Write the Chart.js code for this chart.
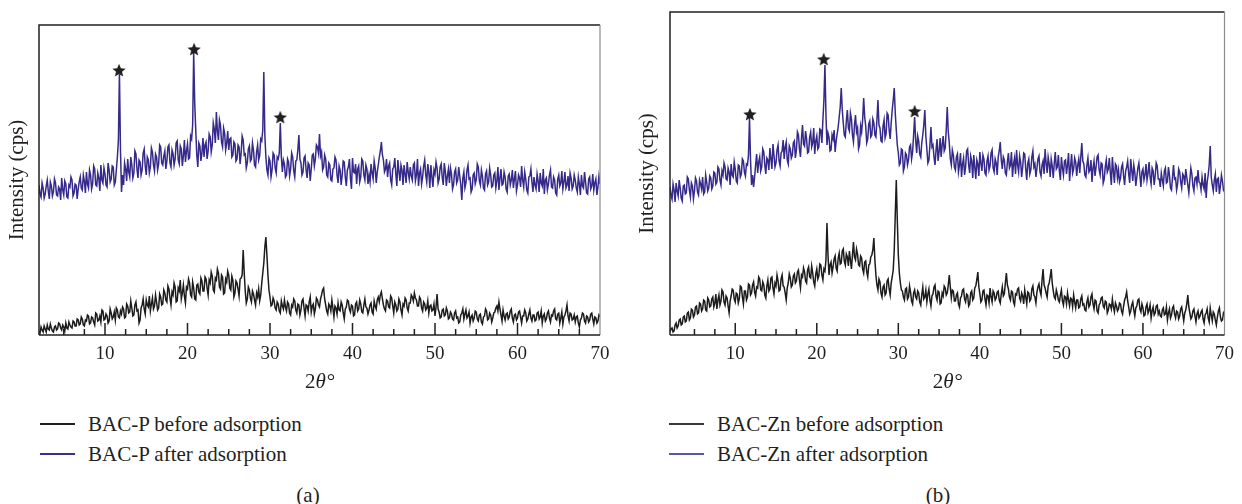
<!DOCTYPE html>
<html>
<head>
<meta charset="utf-8">
<script src="https://cdn.jsdelivr.net/npm/chart.js@4.4.1/dist/chart.umd.min.js"></script>
<style>
  body { margin: 0; background: #fff; width: 1242px; height: 504px; position: relative; overflow: hidden;
         font-family: "Liberation Serif", "Times New Roman", serif; color: #231f20; }
  .wrap { position: absolute; top: 0; }
  .legend { position: absolute; font-size: 21px; line-height: 24px; }
  .legend div { display: flex; align-items: center; height: 30px; }
  .legend span { display: inline-block; width: 35px; height: 1.5px; margin-right: 13px; }
  .caption { position: absolute; width: 60px; text-align: center; font-size: 21px; line-height: 24px; top: 483px; }
</style>
</head>
<body>
<div class="wrap" style="left:0"><canvas id="chartA" width="621" height="400"></canvas></div>
<div class="wrap" style="left:630px"><canvas id="chartB" width="612" height="400"></canvas></div>

<div class="legend" style="left:40px;top:409px">
  <div><span style="background:#231f20"></span>BAC-P before adsorption</div>
  <div><span style="background:#3a2f8c"></span>BAC-P after adsorption</div>
</div>
<div class="legend" style="left:669px;top:409px">
  <div><span style="background:#3a3a3a"></span>BAC-Zn before adsorption</div>
  <div><span style="background:#5b55a8"></span>BAC-Zn after adsorption</div>
</div>
<div class="caption" style="left:278px">(a)</div>
<div class="caption" style="left:908px">(b)</div>

<script>
// 2θ (degrees), shared by all four patterns
const angles = [
  2, 2.125, 2.25, 2.375, 2.5, 2.625, 2.75, 2.875, 3, 3.125, 3.25, 3.375, 3.5, 3.625, 3.75, 3.875, 4, 4.125, 4.25, 4.375,
  4.5, 4.625, 4.75, 4.875, 5, 5.125, 5.25, 5.375, 5.5, 5.625, 5.75, 5.875, 6, 6.125, 6.25, 6.375, 6.5, 6.625, 6.75, 6.875,
  7, 7.125, 7.25, 7.375, 7.5, 7.625, 7.75, 7.875, 8, 8.125, 8.25, 8.375, 8.5, 8.625, 8.75, 8.875, 9, 9.125, 9.25, 9.375,
  9.5, 9.625, 9.75, 9.875, 10, 10.125, 10.25, 10.375, 10.5, 10.625, 10.75, 10.875, 11, 11.125, 11.25, 11.375, 11.5, 11.625, 11.75, 11.875,
  12, 12.125, 12.25, 12.375, 12.5, 12.625, 12.75, 12.875, 13, 13.125, 13.25, 13.375, 13.5, 13.625, 13.75, 13.875, 14, 14.125, 14.25, 14.375,
  14.5, 14.625, 14.75, 14.875, 15, 15.125, 15.25, 15.375, 15.5, 15.625, 15.75, 15.875, 16, 16.125, 16.25, 16.375, 16.5, 16.625, 16.75, 16.875,
  17, 17.125, 17.25, 17.375, 17.5, 17.625, 17.75, 17.875, 18, 18.125, 18.25, 18.375, 18.5, 18.625, 18.75, 18.875, 19, 19.125, 19.25, 19.375,
  19.5, 19.625, 19.75, 19.875, 20, 20.125, 20.25, 20.375, 20.5, 20.625, 20.75, 20.875, 21, 21.125, 21.25, 21.375, 21.5, 21.625, 21.75, 21.875,
  22, 22.125, 22.25, 22.375, 22.5, 22.625, 22.75, 22.875, 23, 23.125, 23.25, 23.375, 23.5, 23.625, 23.75, 23.875, 24, 24.125, 24.25, 24.375,
  24.5, 24.625, 24.75, 24.875, 25, 25.125, 25.25, 25.375, 25.5, 25.625, 25.75, 25.875, 26, 26.125, 26.25, 26.375, 26.5, 26.625, 26.75, 26.875,
  27, 27.125, 27.25, 27.375, 27.5, 27.625, 27.75, 27.875, 28, 28.125, 28.25, 28.375, 28.5, 28.625, 28.75, 28.875, 29, 29.125, 29.25, 29.375,
  29.5, 29.625, 29.75, 29.875, 30, 30.125, 30.25, 30.375, 30.5, 30.625, 30.75, 30.875, 31, 31.125, 31.25, 31.375, 31.5, 31.625, 31.75, 31.875,
  32, 32.125, 32.25, 32.375, 32.5, 32.625, 32.75, 32.875, 33, 33.125, 33.25, 33.375, 33.5, 33.625, 33.75, 33.875, 34, 34.125, 34.25, 34.375,
  34.5, 34.625, 34.75, 34.875, 35, 35.125, 35.25, 35.375, 35.5, 35.625, 35.75, 35.875, 36, 36.125, 36.25, 36.375, 36.5, 36.625, 36.75, 36.875,
  37, 37.125, 37.25, 37.375, 37.5, 37.625, 37.75, 37.875, 38, 38.125, 38.25, 38.375, 38.5, 38.625, 38.75, 38.875, 39, 39.125, 39.25, 39.375,
  39.5, 39.625, 39.75, 39.875, 40, 40.125, 40.25, 40.375, 40.5, 40.625, 40.75, 40.875, 41, 41.125, 41.25, 41.375, 41.5, 41.625, 41.75, 41.875,
  42, 42.125, 42.25, 42.375, 42.5, 42.625, 42.75, 42.875, 43, 43.125, 43.25, 43.375, 43.5, 43.625, 43.75, 43.875, 44, 44.125, 44.25, 44.375,
  44.5, 44.625, 44.75, 44.875, 45, 45.125, 45.25, 45.375, 45.5, 45.625, 45.75, 45.875, 46, 46.125, 46.25, 46.375, 46.5, 46.625, 46.75, 46.875,
  47, 47.125, 47.25, 47.375, 47.5, 47.625, 47.75, 47.875, 48, 48.125, 48.25, 48.375, 48.5, 48.625, 48.75, 48.875, 49, 49.125, 49.25, 49.375,
  49.5, 49.625, 49.75, 49.875, 50, 50.125, 50.25, 50.375, 50.5, 50.625, 50.75, 50.875, 51, 51.125, 51.25, 51.375, 51.5, 51.625, 51.75, 51.875,
  52, 52.125, 52.25, 52.375, 52.5, 52.625, 52.75, 52.875, 53, 53.125, 53.25, 53.375, 53.5, 53.625, 53.75, 53.875, 54, 54.125, 54.25, 54.375,
  54.5, 54.625, 54.75, 54.875, 55, 55.125, 55.25, 55.375, 55.5, 55.625, 55.75, 55.875, 56, 56.125, 56.25, 56.375, 56.5, 56.625, 56.75, 56.875,
  57, 57.125, 57.25, 57.375, 57.5, 57.625, 57.75, 57.875, 58, 58.125, 58.25, 58.375, 58.5, 58.625, 58.75, 58.875, 59, 59.125, 59.25, 59.375,
  59.5, 59.625, 59.75, 59.875, 60, 60.125, 60.25, 60.375, 60.5, 60.625, 60.75, 60.875, 61, 61.125, 61.25, 61.375, 61.5, 61.625, 61.75, 61.875,
  62, 62.125, 62.25, 62.375, 62.5, 62.625, 62.75, 62.875, 63, 63.125, 63.25, 63.375, 63.5, 63.625, 63.75, 63.875, 64, 64.125, 64.25, 64.375,
  64.5, 64.625, 64.75, 64.875, 65, 65.125, 65.25, 65.375, 65.5, 65.625, 65.75, 65.875, 66, 66.125, 66.25, 66.375, 66.5, 66.625, 66.75, 66.875,
  67, 67.125, 67.25, 67.375, 67.5, 67.625, 67.75, 67.875, 68, 68.125, 68.25, 68.375, 68.5, 68.625, 68.75, 68.875, 69, 69.125, 69.25, 69.375,
  69.5, 69.625, 69.75, 69.875, 70
];

// intensity (arbitrary cps, offset patterns), one row per 2.5°
const bacPBefore = [
  4, 2, 8, 5, 3, 9, 6, 3, 10, 6, 5, 11, 7, 4, 3, 8, 9, 5, 6, 12,
  11, 7, 5, 10, 8, 4, 12, 7, 6, 13, 10, 8, 7, 14, 13, 9, 9, 16, 15, 10,
  11, 18, 16, 10, 9, 15, 14, 20, 19, 11, 12, 18, 17, 13, 10, 22, 21, 14, 15, 19,
  13, 25, 24, 15, 16, 21, 19, 12, 14, 26, 22, 16, 18, 23, 15, 27, 25, 18, 17, 24,
  21, 28, 26, 17, 18, 31, 29, 22, 23, 34, 27, 19, 20, 30, 33, 24, 25, 12, 15, 27,
  30, 36, 26, 21, 35, 30, 28, 39, 24, 31, 37, 26, 29, 40, 33, 25, 27, 41, 38, 30,
  31, 45, 42, 35, 33, 49, 46, 37, 30, 43, 40, 52, 48, 33, 34, 47, 44, 55, 36, 42,
  50, 39, 32, 48, 46, 56, 52, 40, 38, 53, 47, 36, 35, 50, 51, 43, 41, 57, 54, 44,
  44, 58, 56, 47, 40, 55, 52, 63, 59, 45, 43, 57, 55, 66, 62, 48, 46, 60, 58, 41,
  42, 56, 53, 64, 60, 47, 45, 59, 55, 38, 42, 54, 52, 46, 39, 56, 57, 60, 85, 62,
  44, 32, 36, 48, 45, 37, 33, 44, 41, 35, 30, 42, 38, 46, 34, 40, 52, 62, 72, 88,
  98, 80, 60, 45, 38, 29, 30, 37, 34, 27, 25, 33, 31, 24, 22, 34, 29, 26, 35, 28,
  24, 33, 31, 22, 20, 30, 28, 36, 34, 25, 22, 31, 30, 20, 25, 34, 36, 27, 19, 30,
  29, 24, 33, 38, 23, 29, 31, 21, 26, 37, 35, 30, 28, 36, 40, 45, 47, 36, 30, 24,
  21, 31, 29, 24, 35, 27, 18, 29, 27, 21, 32, 25, 24, 33, 30, 22, 16, 26, 28, 35,
  34, 26, 23, 30, 29, 19, 20, 31, 33, 24, 26, 35, 31, 23, 22, 30, 36, 28, 27, 21,
  25, 30, 32, 23, 21, 34, 29, 26, 35, 38, 33, 40, 43, 36, 30, 26, 24, 35, 34, 28,
  27, 39, 37, 29, 22, 33, 30, 24, 26, 36, 33, 25, 20, 31, 29, 37, 35, 27, 24, 32,
  32, 40, 38, 34, 42, 37, 35, 29, 29, 38, 36, 27, 24, 33, 31, 25, 27, 34, 22, 29,
  30, 24, 25, 31, 19, 28, 41, 26, 23, 17, 18, 25, 26, 19, 20, 27, 24, 16, 17, 23,
  21, 16, 15, 22, 24, 17, 18, 12, 13, 20, 22, 26, 16, 21, 25, 17, 19, 23, 12, 18,
  20, 14, 17, 24, 23, 16, 14, 20, 21, 13, 11, 18, 19, 26, 24, 15, 16, 22, 20, 13,
  17, 22, 23, 27, 29, 24, 33, 26, 20, 14, 25, 19, 15, 21, 22, 16, 18, 24, 26, 17,
  13, 20, 21, 15, 17, 23, 24, 18, 12, 19, 19, 25, 22, 14, 16, 21, 25, 17, 14, 20,
  20, 14, 15, 22, 23, 16, 18, 24, 12, 19, 21, 14, 16, 22, 24, 17, 13, 20, 19, 24,
  26, 16, 15, 21, 22, 12, 17, 23, 11, 18, 20, 24, 30, 19, 14, 22, 21, 15, 16, 20,
  13, 18, 19, 12, 8, 15, 17, 22, 21, 14, 12, 19, 18, 13, 15, 21, 22, 16, 11, 18,
  17, 12, 14, 20, 18
];
const bacPAfter = [
  150, 141, 138, 152, 147, 137, 141, 149, 155, 144, 136, 153, 149, 139, 143, 156, 152, 140, 139, 148,
  146, 135, 157, 145, 140, 154, 151, 138, 137, 150, 148, 158, 155, 139, 142, 151, 150, 136, 146, 153,
  158, 147, 145, 160, 154, 142, 163, 151, 147, 165, 160, 146, 151, 169, 166, 150, 149, 162, 157, 144,
  170, 155, 152, 167, 161, 150, 148, 172, 165, 153, 156, 169, 168, 150, 153, 165, 178, 195, 262, 185,
  143, 160, 150, 172, 166, 154, 176, 163, 158, 178, 170, 157, 162, 184, 181, 166, 157, 175, 173, 160,
  165, 182, 186, 169, 160, 178, 175, 162, 168, 187, 183, 170, 164, 181, 178, 165, 171, 190, 188, 172,
  170, 179, 184, 166, 174, 188, 190, 172, 168, 185, 181, 170, 176, 192, 194, 175, 171, 189, 186, 169,
  179, 195, 173, 184, 191, 176, 177, 199, 196, 210, 282, 232, 205, 180, 168, 192, 189, 174, 182, 197,
  178, 190, 193, 176, 184, 201, 198, 183, 190, 212, 206, 192, 223, 204, 195, 215, 210, 193, 188, 207,
  202, 185, 192, 204, 185, 196, 197, 178, 180, 193, 191, 174, 176, 190, 188, 171, 182, 199, 195, 180,
  181, 167, 172, 186, 189, 174, 176, 192, 185, 170, 168, 183, 190, 175, 179, 196, 194, 205, 263, 200,
  178, 165, 160, 177, 174, 158, 165, 182, 180, 167, 162, 178, 176, 182, 212, 178, 163, 175, 171, 158,
  160, 176, 173, 159, 166, 182, 178, 164, 158, 174, 175, 185, 200, 176, 172, 160, 163, 177, 179, 165,
  157, 172, 170, 154, 166, 180, 181, 169, 176, 190, 188, 182, 201, 179, 183, 165, 168, 180, 176, 160,
  158, 172, 170, 155, 154, 166, 167, 178, 175, 160, 152, 169, 165, 150, 160, 174, 173, 158, 149, 165,
  168, 176, 157, 146, 177, 163, 162, 171, 151, 166, 169, 153, 158, 176, 174, 160, 155, 170, 166, 151,
  160, 153, 171, 162, 156, 174, 167, 152, 163, 170, 178, 184, 193, 180, 175, 163, 166, 176, 158, 169,
  172, 155, 150, 166, 168, 177, 161, 149, 175, 164, 154, 170, 165, 150, 170, 161, 152, 173, 163, 156,
  168, 159, 155, 170, 172, 154, 160, 176, 149, 162, 166, 151, 158, 169, 175, 160, 153, 171, 163, 147,
  170, 158, 148, 165, 161, 173, 167, 152, 156, 168, 171, 158, 150, 172, 164, 149, 159, 166, 152, 167,
  161, 146, 150, 163, 166, 152, 155, 168, 159, 150, 135, 157, 163, 147, 152, 165, 170, 156, 157, 143,
  146, 160, 162, 151, 155, 171, 168, 154, 150, 165, 159, 147, 145, 161, 164, 150, 153, 167, 160, 148,
  149, 160, 162, 147, 154, 168, 145, 157, 166, 150, 151, 163, 158, 146, 143, 159, 161, 150, 155, 165,
  147, 156, 164, 144, 150, 160, 157, 148, 169, 155, 148, 163, 156, 145, 142, 158, 159, 166, 153, 143,
  158, 150, 146, 161, 154, 143, 162, 152, 149, 166, 141, 155, 157, 145, 151, 160, 165, 148, 147, 158,
  155, 142, 140, 156, 160, 149, 152, 164, 146, 153, 163, 147, 150, 159, 144, 162, 157, 146, 149, 160,
  155, 147, 143, 158, 151, 140, 160, 149, 147, 163, 153, 142, 141, 156, 158, 146, 149, 161, 145, 152,
  156, 140, 148, 159, 151
];
const bacZnBefore = [
  3, 6, 7, 3, 4, 10, 12, 7, 9, 15, 16, 10, 11, 18, 19, 13, 14, 22, 23, 15,
  17, 26, 25, 18, 20, 28, 29, 21, 22, 32, 31, 24, 26, 35, 34, 25, 24, 37, 35, 28,
  29, 36, 38, 28, 32, 41, 26, 35, 40, 30, 34, 45, 43, 33, 30, 39, 37, 29, 22, 34,
  39, 46, 45, 36, 33, 42, 41, 32, 36, 49, 48, 38, 31, 44, 44, 35, 38, 51, 50, 40,
  42, 50, 53, 43, 39, 48, 47, 58, 56, 45, 44, 53, 50, 40, 37, 49, 55, 44, 46, 57,
  58, 47, 41, 52, 49, 60, 54, 44, 45, 56, 60, 49, 48, 42, 35, 47, 52, 61, 57, 48,
  50, 59, 61, 52, 54, 63, 65, 55, 47, 60, 58, 67, 63, 54, 52, 65, 68, 58, 57, 69,
  62, 53, 49, 61, 66, 56, 59, 71, 70, 60, 55, 66, 64, 75, 112, 80, 60, 70, 73, 62,
  68, 76, 79, 67, 64, 77, 82, 71, 72, 84, 86, 74, 70, 81, 78, 69, 84, 75, 66, 80,
  93, 78, 75, 86, 81, 70, 69, 79, 77, 66, 62, 73, 74, 63, 58, 70, 71, 78, 80, 85,
  97, 75, 60, 50, 45, 56, 53, 42, 38, 48, 50, 40, 42, 54, 56, 46, 40, 52, 58, 65,
  85, 120, 155, 115, 80, 62, 52, 45, 44, 38, 35, 46, 47, 36, 38, 49, 43, 34, 31, 42,
  45, 38, 36, 44, 42, 33, 30, 40, 48, 36, 38, 45, 33, 41, 46, 35, 29, 39, 41, 48,
  50, 39, 35, 44, 43, 31, 32, 42, 39, 49, 47, 40, 42, 50, 60, 48, 37, 45, 44, 34,
  34, 40, 42, 31, 28, 37, 39, 45, 46, 36, 33, 41, 40, 29, 31, 42, 44, 35, 37, 47,
  49, 55, 63, 48, 41, 33, 35, 44, 45, 36, 30, 40, 39, 32, 47, 38, 33, 44, 42, 35,
  37, 43, 44, 35, 32, 41, 48, 39, 41, 52, 62, 50, 46, 38, 35, 44, 43, 33, 30, 41,
  40, 46, 47, 37, 34, 42, 39, 31, 45, 38, 31, 43, 42, 34, 36, 46, 49, 40, 38, 32,
  43, 48, 51, 44, 40, 55, 66, 50, 47, 42, 38, 49, 52, 58, 66, 52, 44, 38, 36, 45,
  41, 35, 33, 40, 45, 34, 30, 39, 38, 31, 42, 35, 29, 37, 36, 28, 40, 33, 27, 35,
  35, 27, 28, 36, 39, 30, 31, 25, 24, 33, 37, 28, 30, 38, 41, 31, 26, 35, 34, 24,
  22, 30, 32, 37, 38, 29, 27, 34, 33, 22, 25, 31, 30, 26, 36, 28, 23, 32, 29, 24,
  26, 32, 31, 24, 21, 29, 35, 38, 43, 34, 28, 21, 24, 30, 33, 25, 19, 27, 29, 35,
  36, 26, 23, 31, 27, 19, 20, 28, 31, 22, 25, 30, 17, 24, 28, 20, 22, 29, 30, 21,
  24, 19, 18, 25, 27, 20, 21, 28, 15, 22, 26, 17, 20, 27, 29, 21, 17, 24, 23, 16,
  19, 26, 28, 21, 14, 22, 25, 31, 40, 28, 22, 16, 18, 24, 26, 19, 13, 21, 24, 17,
  19, 23, 25, 16, 12, 20, 22, 26, 17, 13, 27, 20, 14, 23, 21, 15, 10, 18, 24, 27,
  18, 14, 15, 22, 20
];
const bacZnAfter = [
  148, 140, 136, 151, 145, 133, 152, 144, 139, 155, 147, 137, 134, 149, 150, 141, 142, 158, 156, 145,
  138, 152, 149, 136, 144, 157, 154, 143, 140, 155, 151, 146, 158, 141, 143, 160, 153, 144, 147, 159,
  157, 146, 149, 163, 162, 151, 153, 168, 166, 155, 150, 164, 160, 172, 168, 156, 155, 167, 163, 150,
  171, 160, 158, 173, 166, 154, 152, 170, 169, 158, 161, 176, 174, 163, 159, 171, 170, 180, 217, 175,
  150, 160, 148, 158, 170, 181, 162, 173, 178, 164, 168, 186, 183, 170, 161, 177, 175, 165, 187, 176,
  166, 191, 180, 168, 172, 185, 190, 174, 169, 182, 184, 195, 176, 188, 193, 175, 171, 189, 186, 177,
  180, 192, 194, 177, 185, 203, 200, 186, 178, 197, 210, 191, 189, 204, 196, 182, 183, 198, 203, 188,
  192, 207, 181, 194, 199, 186, 188, 206, 205, 192, 215, 235, 270, 220, 190, 202, 198, 184, 185, 200,
  196, 205, 183, 194, 201, 208, 218, 228, 247, 225, 212, 200, 198, 214, 225, 207, 204, 222, 216, 200,
  193, 210, 220, 203, 207, 186, 190, 209, 203, 215, 237, 218, 209, 192, 196, 211, 214, 198, 200, 216,
  212, 200, 198, 215, 235, 210, 207, 194, 193, 209, 215, 197, 201, 222, 220, 205, 196, 212, 225, 235,
  247, 222, 205, 190, 182, 170, 172, 186, 185, 164, 168, 182, 180, 170, 175, 188, 190, 176, 183, 200,
  218, 195, 182, 199, 194, 181, 178, 192, 200, 210, 225, 199, 186, 172, 175, 190, 208, 188, 190, 178,
  170, 185, 196, 174, 183, 197, 178, 190, 199, 184, 187, 205, 228, 203, 192, 176, 170, 185, 180, 168,
  165, 178, 181, 163, 170, 182, 158, 171, 177, 160, 168, 184, 186, 170, 162, 179, 174, 157, 180, 168,
  156, 175, 171, 159, 183, 172, 164, 180, 176, 162, 160, 174, 179, 165, 169, 182, 185, 167, 163, 176,
  172, 160, 178, 184, 193, 175, 166, 178, 175, 162, 160, 173, 182, 167, 170, 183, 158, 171, 177, 161,
  185, 170, 163, 179, 173, 158, 168, 182, 181, 166, 155, 172, 176, 161, 165, 178, 184, 168, 171, 158,
  167, 176, 179, 163, 159, 170, 174, 161, 186, 172, 162, 178, 171, 158, 176, 169, 157, 172, 183, 166,
  168, 180, 164, 155, 178, 167, 160, 174, 175, 161, 170, 182, 154, 168, 181, 162, 166, 177, 173, 159,
  170, 176, 162, 178, 192, 174, 171, 160, 158, 170, 177, 163, 165, 175, 153, 167, 174, 159, 168, 178,
  180, 165, 160, 172, 171, 152, 156, 168, 175, 163, 166, 177, 162, 150, 178, 164, 152, 171, 169, 157,
  165, 153, 157, 168, 171, 159, 150, 164, 168, 174, 161, 152, 176, 165, 154, 170, 163, 149, 158, 167,
  172, 160, 148, 163, 166, 155, 160, 171, 155, 162, 173, 158, 151, 167, 164, 150, 159, 172, 169, 156,
  156, 148, 162, 155, 149, 164, 167, 152, 153, 168, 160, 147, 145, 158, 170, 156, 157, 145, 151, 166,
  163, 153, 147, 161, 159, 150, 166, 158, 150, 142, 155, 167, 161, 149, 144, 157, 158, 151, 165, 153,
  152, 145, 158, 150, 146, 162, 137, 153, 160, 170, 189, 158, 150, 144, 155, 161, 143, 156, 157, 141,
  149, 160, 154, 145, 147
];

// star markers over the new reflections
const pStarAngles = [11.7, 20.8, 31.25];
const pStarValues = [265, 286, 218];
const znStarAngles = [11.8, 20.85, 32.0];
const znStarValues = [221, 276, 224];

const majorTicks = [10, 20, 30, 40, 50, 60, 70];

const ink = '#231f20';
const blue = '#35298a';

Chart.defaults.font.family = '"Liberation Serif", "Times New Roman", serif';
Chart.defaults.color = ink;

function makeStar(size, color) {
  const c = document.createElement('canvas');
  c.width = size;
  c.height = size;
  const g = c.getContext('2d');
  const r = size / 2;
  g.beginPath();
  for (let i = 0; i < 10; i++) {
    const a = -Math.PI / 2 + i * Math.PI / 5;
    const rr = i % 2 ? r * 0.45 : r;
    g.lineTo(r + rr * Math.cos(a), r + rr * Math.sin(a) + 0.8);
  }
  g.closePath();
  g.fillStyle = color;
  g.fill();
  return c;
}

const starImage = makeStar(14, ink);

const framePlugin = {
  id: 'frame',
  afterDatasetsDraw(chart) {
    const { ctx, chartArea: { left, right, top, bottom }, scales: { x } } = chart;
    ctx.save();
    ctx.lineCap = 'butt';
    ctx.strokeStyle = ink;
    ctx.lineWidth = 1.5;
    ctx.beginPath();
    ctx.moveTo(left, bottom);
    ctx.lineTo(left, top);
    ctx.lineTo(right, top);
    ctx.stroke();

    ctx.strokeStyle = '#8c8c8c';
    ctx.lineWidth = 1.2;
    ctx.beginPath();
    ctx.moveTo(right, top);
    ctx.lineTo(right, bottom);
    ctx.stroke();

    ctx.strokeStyle = ink;
    ctx.lineWidth = 1.5;
    ctx.beginPath();
    ctx.moveTo(left, bottom);
    ctx.lineTo(right, bottom);
    x.ticks.forEach(t => {
      if (t.value % 2.5 !== 0 || t.value <= x.min || t.value >= x.max) return;
      const px = x.getPixelForValue(t.value);
      const len = t.value % 10 === 0 ? 12 : 6;
      ctx.moveTo(px, bottom);
      ctx.lineTo(px, bottom - len);
    });
    ctx.stroke();

    // x title: 2θ°
    const cx = (left + right) / 2;
    const cy = 382;
    const upright = '21px "Liberation Serif", serif';
    const italic = 'italic 21px "Liberation Serif", serif';
    ctx.fillStyle = ink;
    ctx.textBaseline = 'middle';
    ctx.textAlign = 'left';
    ctx.font = upright;
    const w2 = ctx.measureText('2').width;
    const wd = ctx.measureText('°').width;
    ctx.font = italic;
    const wt = ctx.measureText('θ').width;
    let xx = cx - (w2 + wt + wd) / 2;
    ctx.font = upright;
    ctx.fillText('2', xx, cy);
    xx += w2;
    ctx.font = italic;
    ctx.fillText('θ', xx, cy);
    xx += wt + 1;
    ctx.font = upright;
    ctx.fillText('°', xx, cy);
    ctx.restore();
  }
};

function makeChart(id, before, after, starAngles, starValues, opts) {
  const ctx = document.getElementById(id).getContext('2d');
  return new Chart(ctx, {
    type: 'line',
    data: {
      labels: angles,
      datasets: [
        {
          label: 'before',
          data: before,
          borderColor: '#1c1c1c',
          borderWidth: 1.5,
          pointRadius: 0,
          tension: 0
        },
        {
          label: 'after',
          data: after,
          borderColor: blue,
          borderWidth: 1.5,
          pointRadius: 0,
          tension: 0
        },
        {
          type: 'scatter',
          label: 'stars',
          data: starAngles.map((a, i) => ({ x: a, y: starValues[i] })),
          pointStyle: starImage,
          showLine: false
        }
      ]
    },
    options: {
      responsive: false,
      animation: false,
      events: [],
      layout: { padding: { left: 0, right: opts.padRight, top: opts.padTop, bottom: 0 } },
      plugins: { legend: { display: false }, tooltip: { enabled: false } },
      scales: {
        x: {
          type: 'linear',
          min: 2,
          max: 70,
          grid: { display: false, drawTicks: false },
          border: { display: false },
          ticks: {
            stepSize: 2.5,
            autoSkip: false,
            maxRotation: 0,
            padding: 8,
            font: { size: 19 },
            color: ink,
            callback: v => (majorTicks.includes(v) ? String(v) : '')
          },
          afterFit(scale) { scale.height = 65; }
        },
        y: {
          min: 0,
          max: opts.yMax,
          grid: { display: false, drawTicks: false },
          border: { display: false },
          ticks: { display: false },
          title: {
            display: true,
            text: 'Intensity (cps)',
            font: { size: 21 },
            color: ink,
            padding: { top: 5, bottom: 0 }
          },
          afterFit(scale) { scale.width = opts.leftWidth; }
        }
      }
    },
    plugins: [framePlugin]
  });
}

makeChart('chartA', bacPBefore, bacPAfter, pStarAngles, pStarValues,
  { padRight: 21, padTop: 25, leftWidth: 39, yMax: 310 });
makeChart('chartB', bacZnBefore, bacZnAfter, znStarAngles, znStarValues,
  { padRight: 13, padTop: 12, leftWidth: 40, yMax: 323 });
</script>
</body>
</html>
